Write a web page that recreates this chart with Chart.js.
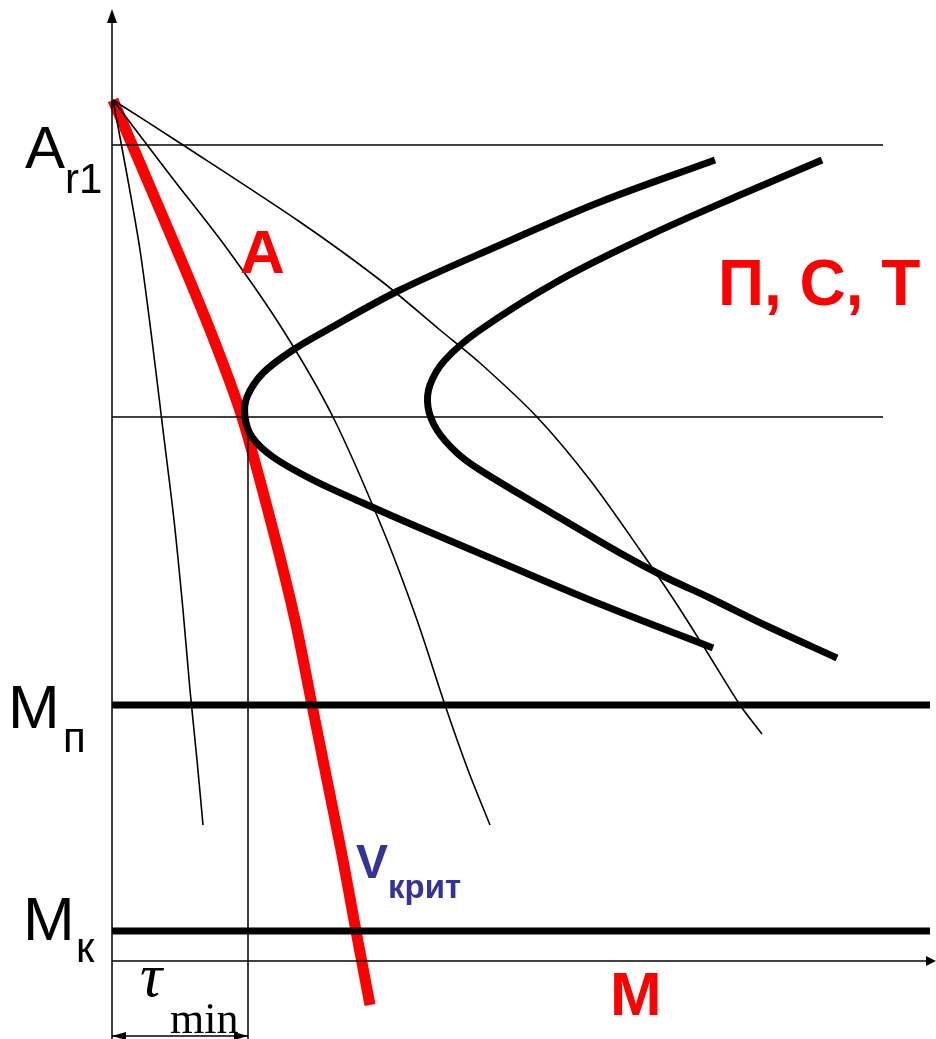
<!DOCTYPE html>
<html>
<head>
<meta charset="utf-8">
<script src="https://cdn.jsdelivr.net/npm/chart.js@4/dist/chart.umd.min.js"></script>
<style>
  html, body { margin: 0; padding: 0; background: #fff; }
  canvas { display: block; }
</style>
</head>
<body>
<canvas id="c" width="936" height="1039"></canvas>
<script>
// plot units: x = time (left to right), y = level from top (reversed scale)
const X0 = 112, XEND = 883, XFAR = 930;
const levelAr1 = 145, levelMid = 417, levelMn = 705, levelMk = 931, levelBase = 961;
const tauMin = 248;

const redCurve = [[113,100],[145,175],[177,250],[212,335],[242,417],[273,530],[295,620],[312,705],[327,780],[342,855],[356,931],[370,1005]];
const thin1 = [[113,100],[127,175],[140,250],[152,340],[163,430],[174,520],[183,610],[190,690],[197,760],[203,825]];
const thin2 = [[113,100],[170,175],[228,250],[283,330],[333,417],[383,530],[417,620],[445,705],[468,770],[490,825]];
const thin3 = [[113,100],[183,145],[300,222],[380,280],[440,330],[480,363],[537,417],[590,480],[640,550],[674,600],[707,652],[740,705],[762,734]];
const leftC = [[715,160],[600,202],[500,245],[400,290],[327,330],[293,350],[263,373],[247,397],[245,417],[252,437],[273,457],[313,480],[363,503],[413,525],[500,562],[600,604],[713,648]];
const rightC = [[822,160],[740,195],[650,235],[560,280],[480,330],[445,360],[430,385],[428,407],[437,430],[457,453],[480,470],[550,512],[620,553],[665,577],[710,598],[767,626],[837,658]];

const pts = a => a.map(p => ({x: p[0], y: p[1]}));
const seg = (x1, y1, x2, y2) => [{x: x1, y: y1}, {x: x2, y: y2}];

function line(data, color, width, tension) {
  return { data: data, showLine: true, borderColor: color, borderWidth: width,
           pointRadius: 0, tension: tension || 0, fill: false, borderCapStyle: 'butt' };
}

const labels = [
  {t: 'A', x: 25, y: 168, f: '60px "Liberation Sans"', c: '#000'},
  {t: 'r1', x: 65, y: 193, f: '42px "Liberation Sans"', c: '#000'},
  {t: 'M', x: 8, y: 728, f: '62px "Liberation Sans"', c: '#000'},
  {t: 'п', x: 63, y: 752, f: '42px "Liberation Sans"', c: '#000'},
  {t: 'M', x: 23, y: 940, f: '62px "Liberation Sans"', c: '#000'},
  {t: 'к', x: 76, y: 962, f: '42px "Liberation Sans"', c: '#000'},
  {t: 'τ', x: 140, y: 996, f: 'italic 62px "Liberation Serif"', c: '#000'},
  {t: 'min', x: 170, y: 1033, f: '44px "Liberation Serif"', c: '#000'},
  {t: 'A', x: 240, y: 273, f: 'bold 62px "Liberation Sans"', c: '#ff0000'},
  {t: 'П, С, Т', x: 718, y: 305, f: 'bold 64px "Liberation Sans"', c: '#ff0000'},
  {t: 'М', x: 610, y: 1015, f: 'bold 62px "Liberation Sans"', c: '#ff0000'},
  {t: 'V', x: 356, y: 878, f: 'bold 48px "Liberation Sans"', c: '#333399'},
  {t: 'крит', x: 388, y: 898, f: 'bold 33px "Liberation Sans"', c: '#333399'}
];

const decor = {
  id: 'decor',
  afterDatasetsDraw(chart) {
    const ctx = chart.ctx, sx = chart.scales.x, sy = chart.scales.y;
    const px = v => sx.getPixelForValue(v), py = v => sy.getPixelForValue(v);
    ctx.save();
    ctx.fillStyle = '#000';
    const tri = (a, b, c) => { ctx.beginPath(); ctx.moveTo(a[0], a[1]); ctx.lineTo(b[0], b[1]); ctx.lineTo(c[0], c[1]); ctx.closePath(); ctx.fill(); };
    // axis arrows
    tri([px(X0), py(9)], [px(X0) - 5, py(23)], [px(X0) + 5, py(23)]);
    tri([px(936), py(levelBase)], [px(926), py(levelBase) - 5], [px(926), py(levelBase) + 5]);
    // tau min dimension arrows
    const ya = py(1036);
    tri([px(X0), ya], [px(X0) + 14, ya - 4], [px(X0) + 14, ya + 4]);
    tri([px(tauMin), ya], [px(tauMin) - 14, ya - 4], [px(tauMin) - 14, ya + 4]);
    ctx.textBaseline = 'alphabetic';
    ctx.textAlign = 'left';
    labels.forEach(l => {
      ctx.font = l.f;
      ctx.fillStyle = l.c;
      ctx.fillText(l.t, px(l.x), py(l.y));
    });
    ctx.restore();
  }
};

new Chart(document.getElementById('c').getContext('2d'), {
  type: 'scatter',
  data: {
    datasets: [
      line(seg(X0, 14, X0, 1039), '#000', 1.5),
      line(seg(X0, levelBase, 930, levelBase), '#000', 1.5),
      line(seg(X0, levelAr1, XEND, levelAr1), '#000', 1.5),
      line(seg(X0, levelMid, XEND, levelMid), '#000', 1.5),
      line(seg(tauMin, levelMid, tauMin, 1039), '#000', 1.5),
      line(seg(X0, 1036, tauMin, 1036), '#000', 1.5),
      line(seg(X0, levelMn, XFAR, levelMn), '#000', 7),
      line(seg(X0, levelMk, XFAR, levelMk), '#000', 7),
      line(pts(thin1), '#000', 1.6, 0.3),
      line(pts(thin2), '#000', 1.6, 0.3),
      line(pts(thin3), '#000', 1.6, 0.3),
      line(pts(leftC), '#000', 7, 0.35),
      line(pts(rightC), '#000', 7, 0.35),
      line(pts(redCurve), '#ff0000', 11, 0.3)
    ]
  },
  options: {
    responsive: false,
    animation: false,
    devicePixelRatio: 1,
    layout: { padding: 0 },
    plugins: { legend: { display: false }, tooltip: { enabled: false } },
    scales: {
      x: { type: 'linear', min: 0, max: 936, display: false },
      y: { type: 'linear', min: 0, max: 1039, reverse: true, display: false }
    }
  },
  plugins: [decor]
});
</script>
</body>
</html>
